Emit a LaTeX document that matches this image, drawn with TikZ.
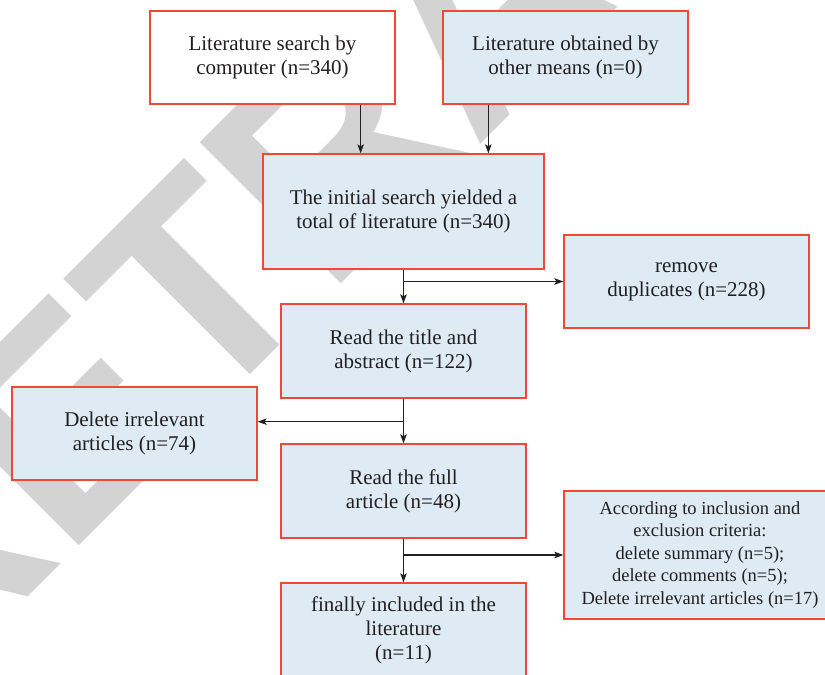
\documentclass[tikz,border=0pt]{standalone}
\usepackage{fontspec}
\setmainfont{Liberation Serif}
\newfontfamily\wmfont{Liberation Sans}
\usetikzlibrary{arrows.meta}
\definecolor{bordc}{RGB}{239,72,54}
\definecolor{fillc}{RGB}{222,234,244}
\definecolor{txtc}{RGB}{35,31,32}
\definecolor{wmc}{RGB}{211,211,211}
\begin{document}
\begin{tikzpicture}[x=1pt,y=-1pt,
  box/.style={draw=bordc, line width=1.3pt, fill=fillc, text=txtc, align=center,
    inner sep=0pt, font=\fontsize{21}{24}\selectfont},
  smallbox/.style={box, font=\fontsize{18.5}{22.5}\selectfont},
  arr/.style={draw=txtc, line width=1.1pt, -{Stealth[length=9pt,width=6.5pt,inset=2pt]}}]
\useasboundingbox (0,0) rectangle (825,675);
\clip (0,0) rectangle (825,675);
\node[anchor=base, rotate=45, text=wmc, inner sep=0pt,
  font=\wmfont\bfseries\fontsize{290}{290}\selectfont] (wm) at (550,75) {RETRACTED};

\node[box, fill=white, minimum width=245pt, minimum height=93pt] (A) at (272.5,57.5)
  {Literature search by\\computer (n=340)};
\node[box, minimum width=245pt, minimum height=93pt] (B) at (565.5,57.5)
  {Literature obtained by\\other means (n=0)};
\node[box, minimum width=281pt, minimum height=115pt] (C) at (403.5,211.5)
  {The initial search yielded a\\total of literature (n=340)};
\node[box, minimum width=245pt, minimum height=93pt] (D) at (686.5,281.5)
  {remove\\duplicates (n=228)};
\node[box, minimum width=245pt, minimum height=94pt] (E) at (403.5,351)
  {Read the title and\\abstract (n=122)};
\node[box, minimum width=245pt, minimum height=93pt] (F) at (134.5,433.5)
  {Delete irrelevant\\articles (n=74)};
\node[box, minimum width=245pt, minimum height=94pt] (G) at (403.5,491)
  {Read the full\\article (n=48)};
\node[smallbox, minimum width=272pt, minimum height=128pt] (H) at (700,555)
  {According to inclusion and\\exclusion criteria:\\delete summary (n=5);\\delete comments (n=5);\\Delete irrelevant articles (n=17)};
\node[box, minimum width=245pt, minimum height=94pt] (I) at (403.5,630)
  {finally included in the\\literature\\(n=11)};

\coordinate (a1) at ([xshift=-35pt]A.south east);
\coordinate (b1) at ([xshift=46pt]B.south west);
\draw[arr] (a1) -- (a1 |- C.north);
\draw[arr] (b1) -- (b1 |- C.north);
\draw[arr] (C.south) -- (E.north);
\draw[arr] (C.south |- D.west) -- (D.west);
\draw[arr] (E.south) -- (G.north);
\coordinate (b2) at ([yshift=-23pt]E.south);
\draw[arr] (b2) -- (b2 -| F.east);
\draw[arr] (G.south) -- (I.north);
\draw[arr] (G.south |- H.west) -- (H.west);
\end{tikzpicture}
\end{document}
